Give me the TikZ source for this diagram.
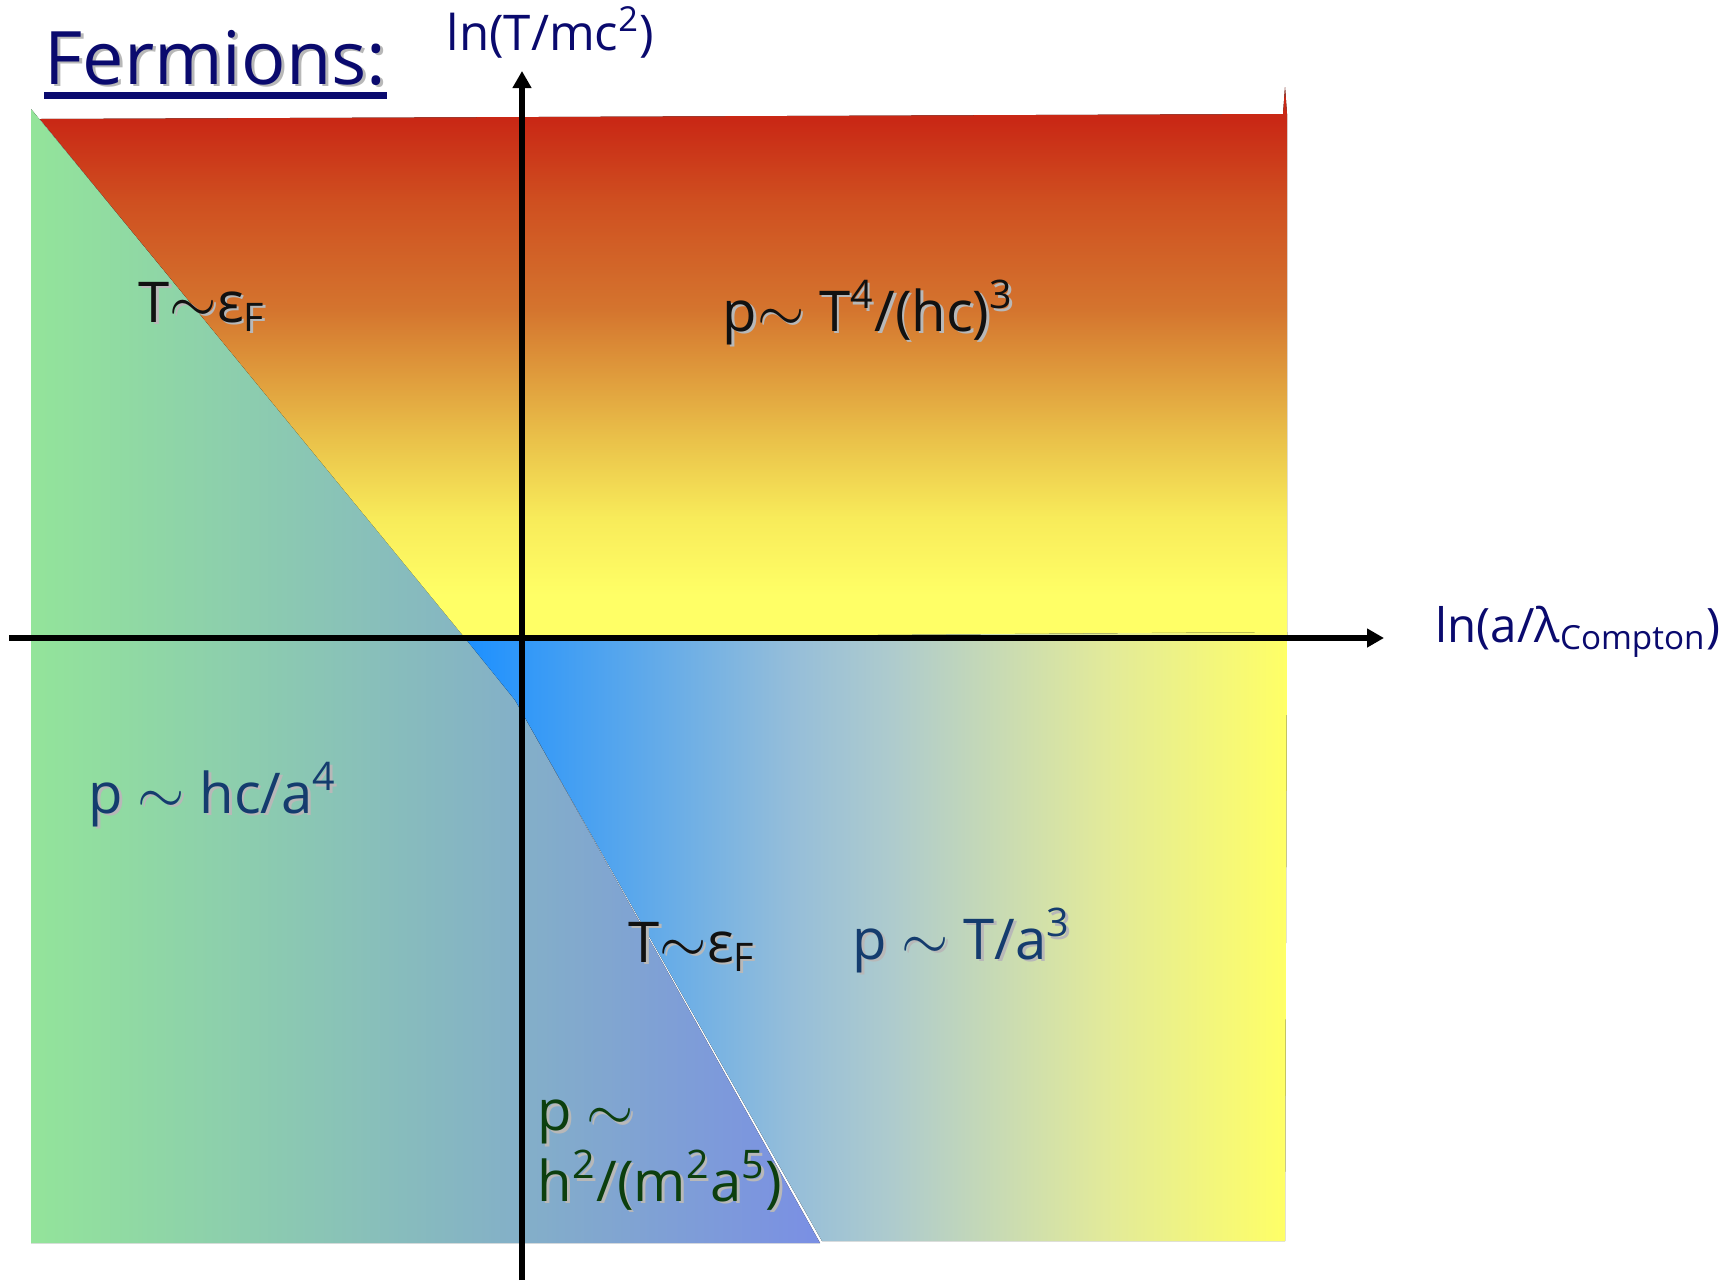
\documentclass[tikz,border=0pt]{standalone}
\usepackage{fontspec}
\setmainfont{Open Sans}
\usetikzlibrary{arrows.meta}
\definecolor{Navy}{HTML}{0A0A6E}
\definecolor{Ink}{HTML}{111111}
\definecolor{DeepBlue}{HTML}{143C6E}
\definecolor{DeepGreen}{HTML}{0C3F0E}
\definecolor{Shade}{HTML}{B8B8B8}
\definecolor{HotRed}{HTML}{C92815}
\definecolor{HotBrick}{HTML}{CF4F20}
\definecolor{HotOrange}{HTML}{D4742E}
\definecolor{HotGold}{HTML}{EAC24A}
\definecolor{HotLemon}{HTML}{F8EB5A}
\definecolor{Sun}{HTML}{FFFF66}
\definecolor{Leaf}{HTML}{93E49A}
\definecolor{Lilac}{HTML}{7A8FE4}
\definecolor{Sky}{HTML}{1C90FF}
\definecolor{Mist}{HTML}{96BED9}
\definecolor{Haze}{HTML}{AECBCD}
\definecolor{Straw}{HTML}{E2EA9A}
\pgfdeclareverticalshading{heatband}{100bp}{color(0bp)=(Sun); color(28.9bp)=(Sun); color(35.9bp)=(HotLemon); color(42.9bp)=(HotGold); color(54.9bp)=(HotOrange); color(64.7bp)=(HotBrick); color(72bp)=(HotRed); color(100bp)=(HotRed)}
\pgfdeclarehorizontalshading{leafband}{100bp}{color(0bp)=(Leaf); color(25bp)=(Leaf); color(75bp)=(Lilac); color(100bp)=(Lilac)}
\pgfdeclarehorizontalshading{skyband}{100bp}{color(0bp)=(Sky); color(25bp)=(Sky); color(45bp)=(Mist); color(51bp)=(Haze); color(64bp)=(Straw); color(75bp)=(Sun); color(100bp)=(Sun)}
\newcommand{\shadowed}[1]{\rlap{\kern0.8pt\raisebox{-0.8pt}{\color{Shade}#1}}#1}
\tikzset{
  axisline/.style={draw=black,line width=1.7pt,-{Triangle[length=1.7mm,width=1.8mm]}},
  axislbl/.style={anchor=base west,inner sep=0pt,text=Navy,font=\fontsize{14}{17}\selectfont},
  lbl/.style={anchor=base west,inner sep=0pt,font=\fontsize{16}{18}\selectfont,align=left},
  region/.style={draw=none}
}

\begin{document}
\begin{tikzpicture}[x=0.1mm,y=-0.1mm]
  \useasboundingbox (0,0) rectangle (1728,1280);
  % regions
  \fill[region,shading=leafband] (31,109) -- (465,636) -- (515,700) -- (820,1243) -- (31,1243) -- cycle;
  \fill[region,shading=heatband] (40,119) -- (1283,114) -- (1285,87) -- (1287,114) -- (1287,638) -- (465,638) -- cycle;
  \fill[region,shading=skyband] (465,638) -- (1287,632) -- (1285,1241) -- (822,1241) -- (515,700) -- cycle;
  % axes
  \coordinate (xfoot) at (9,638);
  \coordinate (xtip) at (1384,638);
  \coordinate (yfoot) at (522,1280);
  \coordinate (ytip) at (522,71);
  \draw[axisline] (xfoot) -- (xtip);
  \draw[axisline] (yfoot) -- (ytip);
  % titles
  \node[anchor=base west,inner sep=0pt,text=Navy,font=\fontsize{21}{25}\selectfont] (title) at (44,84) {\shadowed{Fermions:}};
  \draw[Navy,line width=0.7mm] ([yshift=-1.1mm]title.base west) -- ([yshift=-1.1mm]title.base east);
  \node[axislbl] (ylab) at (446,50) {ln(T/mc\textsuperscript{2})};
  \node[axislbl,font=\fontsize{13.5}{16}\selectfont] (xlab) at (1435,642) {ln(a/λ\textsubscript{Compton})};
  % regimes
  \node[lbl,text=Ink] (fermiup) at (138,322) {\shadowed{T$\sim$ε\textsubscript{F}}};
  \node[lbl,text=Ink] (hot) at (722,331) {\shadowed{p$\sim$ T\textsuperscript{4}/(hc)\textsuperscript{3}}};
  \node[lbl,text=DeepBlue] (degen) at (88,813) {\shadowed{p $\sim$ hc/a\textsuperscript{4}}};
  \node[lbl,text=Ink] (fermilow) at (628,962) {\shadowed{T$\sim$ε\textsubscript{F}}};
  \node[lbl,text=DeepBlue] (classic) at (852,959) {\shadowed{p $\sim$ T/a\textsuperscript{3}}};
  \node[lbl,text=DeepGreen] (nonrel) at (537,1201) {\shadowed{p $\sim$}\\\shadowed{h\textsuperscript{2}/(m\textsuperscript{2}a\textsuperscript{5})}};
\end{tikzpicture}
\end{document}
